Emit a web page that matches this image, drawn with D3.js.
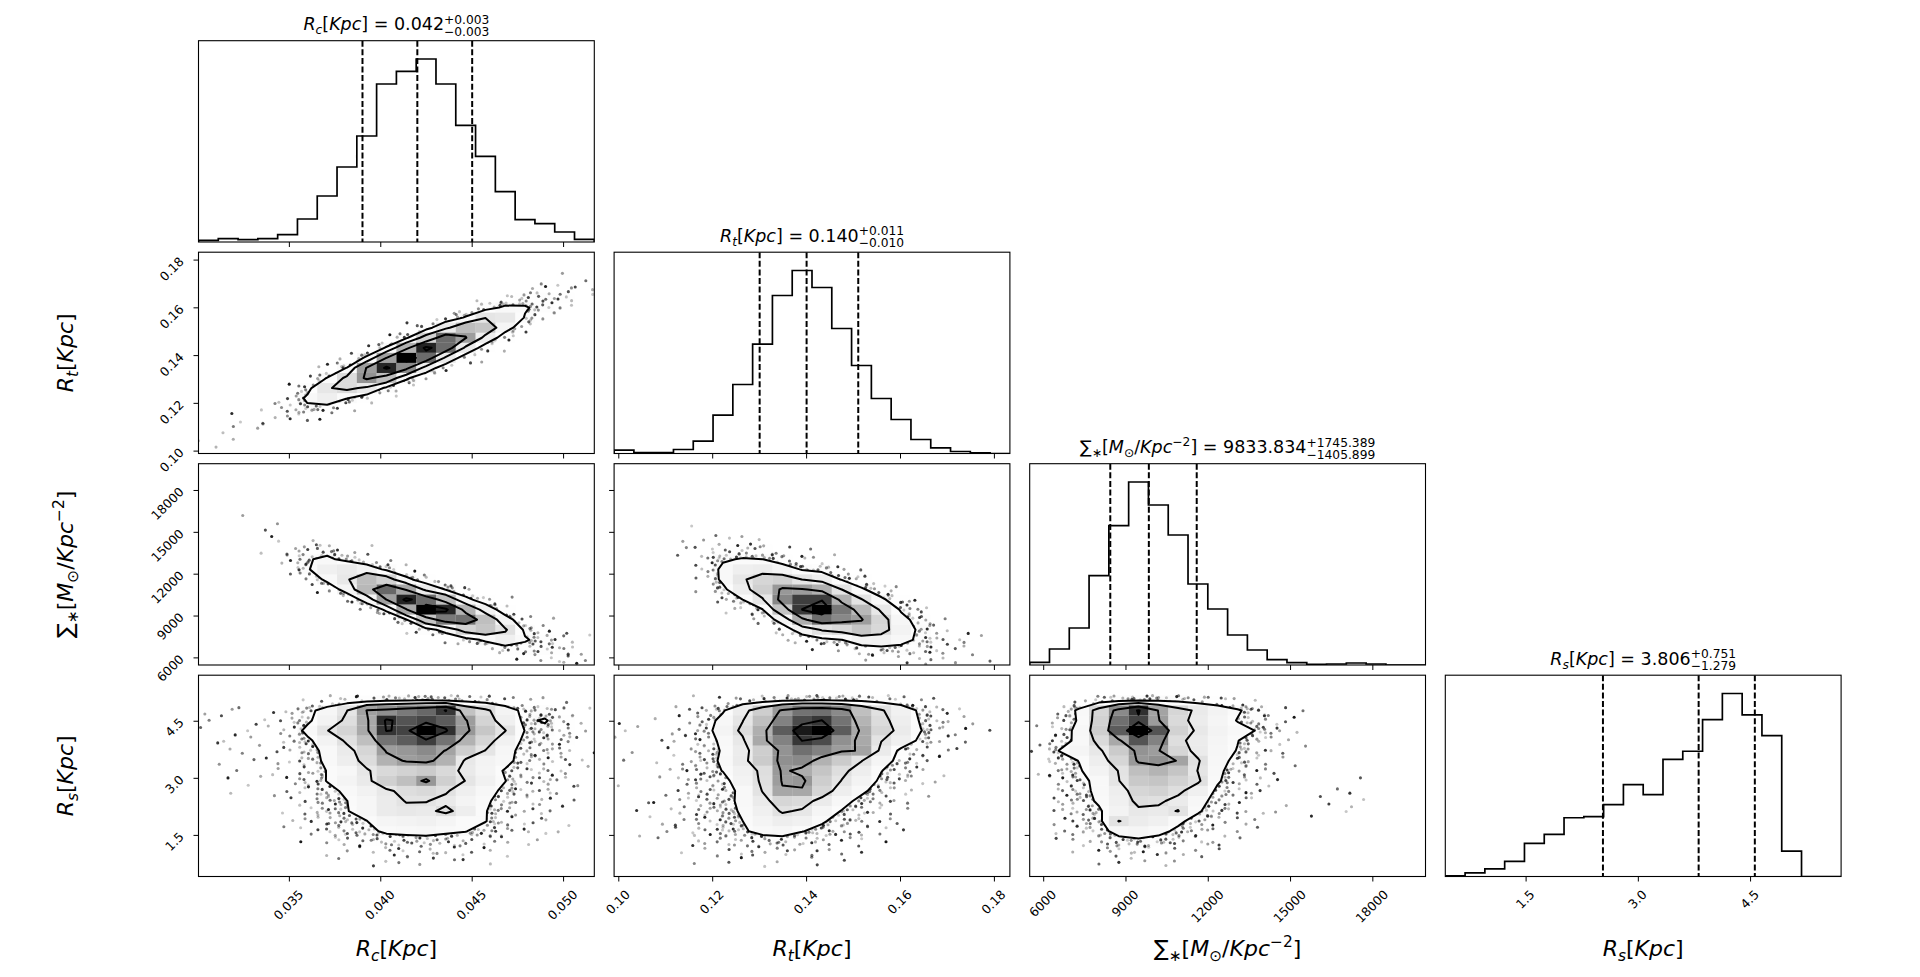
<!DOCTYPE html>
<html><head><meta charset="utf-8">
<script src="https://cdn.jsdelivr.net/npm/d3@7"></script>
<style>
html,body{margin:0;padding:0;background:#fff;}
svg{display:block;font-family:"DejaVu Sans",sans-serif;}
</style></head><body>
<svg id="chart" width="1920" height="977"></svg>
<script>
// ================= DATA =================
const PARAM_KEYS = ["Rc", "Rt", "Sigma", "Rs"];
const RANGES = [[0.03003, 0.05168], [0.0990, 0.1833], [5490, 19920], [0.42, 5.71]];
const TICKS = [[0.035, 0.040, 0.045, 0.050], [0.10, 0.12, 0.14, 0.16, 0.18], [6000, 9000, 12000, 15000, 18000], [1.5, 3.0, 4.5]];
const TICK_FORMATS = [".3f", ".2f", "d", ".1f"];

// 1D histograms (20 bins over each range)
const HIST_RC = [5, 10, 7, 10, 22, 69, 138, 225, 318, 474, 512, 549, 474, 350, 257, 151, 67, 55, 30, 8];
const HIST_RT = [10, 3, 3, 12, 37, 115, 207, 328, 474, 549, 498, 375, 264, 165, 102, 42, 17, 6, 2, 0];
const HIST_SIGMA = [8, 48, 111, 268, 418, 549, 480, 390, 243, 168, 90, 45, 16, 7, 2, 3, 6, 3, 0, 0];
const HIST_RS = [2, 11, 23, 45, 99, 126, 176, 179, 215, 275, 245, 351, 375, 470, 548, 484, 422, 76, 0, 0];

// 16 / 50 / 84 percentiles (dashed lines)
const Q_RC = [0.039, 0.042, 0.045];
const Q_RT = [0.130, 0.140, 0.151];
const Q_SIGMA = [8427.935, 9833.834, 11579.223];
const Q_RS = [2.527, 3.806, 4.557];

// title values: median, minus, plus
const TITLE_VALUES = [["0.042", "0.003", "0.003"], ["0.140", "0.010", "0.011"], ["9833.834", "1405.899", "1745.389"], ["3.806", "1.279", "0.751"]];

// contour levels in sigma
const SIGMA_LEVELS = [0.5, 1, 1.5, 2];

// 2D histograms (20x20, rows listed from the top of the panel = highest y bin)
const GRID_RC_RT = [
[0,0,0,0,0,0,0,0,0,0,0,0,0,0,0,0,0,0,0,0],
[0,0,0,0,0,0,0,0,0,0,0,0,0,0,0,0,0,0,0.1,0.3],
[0,0,0,0,0,0,0,0,0,0,0,0,0,0,0,0,0.1,0.4,1.2,1.3],
[0,0,0,0,0,0,0,0,0,0,0,0,0,0,0,0.3,1.1,2.9,3.9,2],
[0,0,0,0,0,0,0,0,0,0,0,0,0,0.1,0.7,3.3,7,8,4.8,1.1],
[0,0,0,0,0,0,0,0,0,0,0,0,0.2,1.7,8,16,15,8,2.1,0.2],
[0,0,0,0,0,0,0,0,0,0,0,0.4,3.8,15,32,30,12.5,2.9,0.4,0],
[0,0,0,0,0,0,0,0,0,0.1,0.8,7,28,51,48,20,3.8,0.4,0,0],
[0,0,0,0,0,0,0,0,0.1,1.4,11,42,76,62,26,5,0.4,0,0,0],
[0,0,0,0,0,0,0,0.2,1.8,15,55,93,76,28,5.3,1.0,0,0,0,0],
[0,0,0,0,0,0,0.3,1.9,16,61,100,76,28,4.6,1.0,0.3,0,0,0,0],
[0,0,0,0,0,0.2,2.3,14,62,92,67,23,3.8,0.6,0.3,0,0,0,0,0],
[0,0,0,0,0.1,1.8,14,37,65,50,16,2.5,0.2,0,0,0,0,0,0,0],
[0,0,0,0.1,0.8,9,31,37,29,10,1.5,0.1,0,0,0,0,0,0,0,0],
[0,0,0.1,0.6,3.3,16,25,14,5,0.8,0.1,0,0,0,0,0,0,0,0,0],
[0,0.2,0.5,2,5,11,7.6,1.9,0.4,0.3,0,0,0,0,0,0,0,0,0,0],
[0.2,0.9,1.3,2.4,2.7,2.6,0.8,0.2,0,0,0,0,0,0,0,0,0,0,0,0],
[0.5,1.9,1.3,1.1,0.6,0.3,0.2,0,0,0,0,0,0,0,0,0,0,0,0,0],
[1,1.6,0.5,0.2,0.1,0,0,0,0,0,0,0,0,0,0,0,0,0,0,0],
[0.7,0.5,0.1,0,0,0,0,0,0,0,0,0,0,0,0,0,0,0,0,0]];

const GRID_RC_SIGMA = [
[0,0,0,0,0,0,0,0,0,0,0,0,0,0,0,0,0,0,0,0],
[0.2,0,0,0,0,0,0,0,0,0,0,0,0,0,0,0,0,0,0,0],
[0.5,0.4,0,0,0,0,0,0,0,0,0,0,0,0,0,0,0,0,0,0],
[0.6,0.6,0.4,0,0,0,0,0,0,0,0,0,0,0,0,0,0,0,0,0],
[0.4,0.6,0.6,0.4,0,0,0,0,0,0,0,0,0,0,0,0,0,0,0,0],
[0.3,0.5,0.8,0.7,0.4,0.3,0,0,0,0,0,0,0,0,0,0,0,0,0,0],
[0,0.3,0.6,1.0,0.6,0.4,0.3,0,0,0,0,0,0,0,0,0,0,0,0,0],
[0,0,0.4,1.0,1.2,1.1,0.6,0.5,0.3,0,0,0,0,0,0,0,0,0,0,0],
[0,0,0,0.8,3.1,5.1,9,2.5,0.8,0.4,0,0,0,0,0,0,0,0,0,0],
[0,0,0,0.5,3.9,12.5,16,10,4.5,1.5,0.4,0,0,0,0,0,0,0,0,0],
[0,0,0,0.3,1.8,12,24,28,22,11,2.4,0.5,0.3,0,0,0,0,0,0,0],
[0,0,0,0,0.4,3.5,17,30,51,42,17.6,4.7,1.5,0.3,0,0,0,0,0,0],
[0,0,0,0,0.5,0.4,4,19.5,53,77,59,27.5,12.8,2.8,0.6,0,0,0,0,0],
[0,0,0,0.3,0.4,0.3,0.4,3.3,19.5,61,93,76,50,18,5.2,0.8,0,0,0,0],
[0,0,0,0,0,0,0,0.3,2.4,16,59,100,92,54,23.5,5.6,0.6,0,0,0],
[0,0,0,0,0,0,0,0,0.3,1.4,12.6,48,72,75,50,20,3.8,0.9,0.3,0],
[0,0,0,0,0,0,0,0,0,0.2,1,7.7,19,41,48,34.5,11,3.8,1,0.3],
[0,0,0,0,0,0,0,0,0,0,0,0.5,1.7,7.4,16,24.5,15,8.2,3.2,0.7],
[0,0,0,0,0,0,0,0,0,0,0,0,0.2,0.6,1.7,5.8,7.7,7.8,5,1.7],
[0,0,0,0,0,0,0,0,0,0,0,0,0,0,0.3,0.6,1.3,2.6,3.2,1.9]];

const GRID_RT_SIGMA = [
[0,0,0,0,0,0,0,0,0,0,0,0,0,0,0,0,0,0,0,0],
[0,0,0,0,0,0,0,0,0,0,0,0,0,0,0,0,0,0,0,0],
[0.4,0.3,0,0,0,0,0,0,0,0,0,0,0,0,0,0,0,0,0,0],
[0.5,0.4,0.3,0,0,0,0,0,0,0,0,0,0,0,0,0,0,0,0,0],
[0.4,0.5,0.4,0,0,0,0,0,0,0,0,0,0,0,0,0,0,0,0,0],
[0.3,0.4,0.5,0.5,0,0,0,0,0,0,0,0,0,0,0,0,0,0,0,0],
[0,0.3,0.5,0.7,0.4,0.6,0.5,0,0,0,0,0,0,0,0,0,0,0,0,0],
[0.2,0,0.6,1.0,1.0,2,2,1.3,0.4,0,0,0,0,0,0,0,0,0,0,0],
[0.2,0,0.5,1.0,2.2,5.3,6.4,4.7,2,0.8,0.5,0,0,0,0,0,0,0,0,0],
[0,0,0,0.8,3.4,12,14.5,13.7,7.4,3.5,2.3,0.8,0,0,0,0,0,0,0,0],
[0,0,0,0.6,4,16.5,25,26.7,20.8,12.5,9,3.8,1.3,0,0,0,0,0,0,0],
[0,0,0,0.4,3.1,16.3,30.7,40,42.5,32.3,26,12.6,5.3,1.8,0,0,0,0,0,0],
[0,0,0,0.3,1.4,10.3,26,43.6,63.6,62.5,55.6,32.6,15.5,6.3,1.6,0,0,0,0,0],
[0.3,0,0.3,0.4,0.6,3.9,13.6,30.5,69,87,87,55.6,33.5,16,5.2,1.5,0,0,0,0],
[0.3,0.3,0.3,0.3,0.3,0.9,4.2,12.8,48.5,88.3,100,73,53,29.7,11.9,4.1,0.4,0,0,0],
[0,0.2,0,0,0,0.3,0.8,3.2,20.4,56,75.5,68.4,62,40.4,18.4,7.5,1.5,0.5,0,0],
[0.2,0,0,0,0,0,0.2,0.5,5.1,21,34,39,48,39.4,22,10.4,3.5,1.2,0.4,0],
[0,0,0,0,0,0,0,0,0.8,4.8,9.4,13.4,22,23.6,17.9,10.6,5,2.1,0.8,0.2],
[0,0,0,0,0,0,0,0,0,0.6,1.5,2.8,6.2,8.5,8.8,6.7,4.2,2.4,1,0.3],
[0,0,0,0,0,0,0,0,0,0,0.2,0.4,1.1,1.8,2.6,2.5,2.2,1.8,0.9,0.3]];

const GRID_RC_RS = [
[0,0,0,0,0,0,0,0,0,0,0,0,0,0,0,0,0,0,0,0],
[0,0,0,0,0,0,0,0,0,0,0,0,0,0,0,0,0,0,0,0],
[0.1,0.3,0.2,0.3,0.6,1.8,3.5,5.7,8,12,13,14,12,8.9,6.5,3.8,1.7,1.4,0.8,0.2],
[0.7,1.4,1,1.4,3.1,9.7,19,32,61,66,72,77,89,49,36,21,9.4,7.7,4.2,1.2],
[0.8,1.6,1.1,1.6,3.5,11,22,36,58,91,82,85,80,62,41,24,10.8,15,4.9,1.3],
[0.9,1.8,1.3,1.8,4,17,32,41,58,89,86,100,90,64,47,33,13,10,5.5,1.5],
[0.8,1.5,1.1,1.5,3.4,10.8,21.5,35,50,74,80,87,74,55,40,23.6,10.5,8.6,4.7,1.3],
[0.6,1.2,0.9,1.2,2.7,8.6,17,28,40,62,64,68,60,44,32,19,8.3,6.8,3.8,1],
[0.6,1.2,0.8,1.2,2.6,8,16,26,37,55,62,64,55,30,22,17.6,7.8,6.4,3.5,1],
[0.4,0.8,0.6,0.8,1.8,5.6,14,18,31,39,42,45,39,28.5,21,12.3,5.5,4.5,2.5,0.7],
[0.5,0.9,0.7,0.9,2,6.3,14,20.6,29,43,50,64,43,32,23.5,13.8,6.1,5,2.8,0.8],
[0.4,0.7,0.5,0.7,1.6,4.9,9.8,16,22.7,30,36.6,39,34,25,18,10.8,4.8,3.9,2.2,0.6],
[0.3,0.6,0.4,0.6,1.3,4.1,8.2,13.4,19,28,33,33,29,21,15.3,9,4,3.3,1.8,0.5],
[0.3,0.6,0.4,0.6,1.3,4,8,13,18.6,27.7,30,29,36,26,14,8,3.5,2.8,1.6,0.4],
[0.2,0.4,0.3,0.4,0.9,2.9,5.8,9.4,13.3,19.9,21.5,23,19.9,14.7,14,6.3,2.8,2.3,1.3,0.3],
[0.2,0.3,0.2,0.3,0.7,2.3,4.5,7.4,10.5,15.6,16.9,18.1,15.6,14,8.5,5,2.2,1.8,1,0.3],
[0.1,0.1,0.1,0.1,0.3,1,2,3.4,4.7,7.1,7.7,8.2,7.1,5.2,3.8,2.3,1,0.8,0.5,0.1],
[0.1,0.1,0.1,0.1,0.2,0.5,1.1,1.7,2.4,3.6,3.9,4.2,3.6,2.7,2,1.2,0.5,0.4,0.2,0.1],
[0.1,0.1,0.1,0.1,0.1,0.3,0.5,0.8,1.2,1.7,1.9,2,1.7,1.3,0.9,0.6,0.2,0.2,0.1,0],
[0,0,0,0,0,0,0,0.2,0.3,0.4,0.4,0.4,0.3,0.3,0.2,0,0,0,0,0]];

const GRID_RT_RS = [
[0,0,0,0,0,0,0,0,0,0,0,0,0,0,0,0,0,0,0,0],
[0,0,0,0,0,0,0,0,0,0,0,0,0,0,0,0,0,0,0,0],
[0.1,0.1,0.1,0.5,1,3,5,8,11,13,14,13,11,8,5.5,3,1.2,0.5,0.1,0],
[0.6,0.5,0.6,2,5,12,27,44,63,74,75,68,50,34,23,10.5,4,1.5,0.6,0.2],
[0.8,0.6,0.8,2.5,6,18,32,50,70,84,88.5,74,54,37,26,12,4.5,1.8,0.8,0.3],
[1,0.8,1,3,7,21,36,56,80,95,100,80,58,40,28,14,5,2,1,0.3],
[0.8,0.6,0.8,2.5,6,17,30,58,70,88.5,84,66,58,33,24,10,3.5,1.5,0.6,0.2],
[0.7,0.5,0.8,2.5,6,15,27,44,65,75,70,62,60,28,10,5,2.5,1,0.4,0.1],
[0.7,0.5,0.8,2.8,7,16,28,45,66,68,55,45,33,20,9,4,1.5,0.6,0.3,0.1],
[0.6,0.5,0.8,3,7,14,23,36,63,57,48,36,26,14,6,2.5,1,0.4,0.2,0],
[0.7,0.6,0.9,3.2,7.5,9,22,35,62,64,44,32,22,11,4.5,2,0.8,0.3,0.2,0],
[0.6,0.6,0.9,3,7,8,17,33,59,59,40,26,16,8,3,1.2,0.5,0.2,0,0],
[0.6,0.7,1,3,6.5,10,16,28,40,38,28,18,10,5,2,0.8,0.3,0.1,0,0],
[0.6,0.8,1,3,6,9.5,15,24,34,31,20,13,7,3.5,1.5,0.6,0.2,0,0,0],
[0.5,0.8,1,2.8,5.5,9,13.5,21,26,23,15,9,5,2.5,1,0.5,0.2,0,0,0],
[0.5,0.7,0.9,2.4,4.5,7.5,12,17,19,14,10,6,3.5,2,0.8,0.4,0,0,0,0],
[0.4,0.5,0.7,1.6,3,4.5,6,7.5,8,6.5,4.5,3,2,1,0.5,0.2,0,0,0,0],
[0.3,0.4,0.5,0.9,1.5,2.2,3,3.5,3.5,3,2.2,1.5,1,0.6,0.3,0,0,0,0,0],
[0.3,0.3,0.3,0.5,0.8,1.1,1.4,1.6,1.6,1.4,1,0.7,0.5,0.3,0.1,0,0,0,0,0],
[0.1,0.2,0.1,0.2,0.3,0.4,0.5,0.5,0.5,0.4,0.3,0.2,0.1,0,0,0,0,0,0,0]];

const GRID_SIGMA_RS = [
[0,0,0,0,0,0,0,0,0,0,0,0,0,0,0,0,0,0,0,0],
[0,0,0,0.1,0.1,0.2,0.1,0.1,0.1,0,0,0,0,0,0,0,0,0,0,0],
[0.1,0.5,2,6,10,13,12,10,7,5,3,1.5,0.6,0.2,0.1,0,0,0,0,0],
[0.5,4,16,40,68,90,60,40,29,22,15,8,3,1,0.5,0.3,0.3,0,0,0],
[0.6,5,15,42,75,86,62,38,27,20,13,8,3,1,0.4,0.3,0.3,0.2,0,0],
[0.7,6,18,44,80,100,82,42,30,22,17,13,4,1.2,0.5,0.4,0.3,0.2,0,0],
[0.8,8,17,38,58,82,70,36,27,20,14,6,2.5,1,0.5,0.3,0.3,0,0,0],
[1,14,20,30,45,65,62,40,28,19,13,5,2,0.8,0.4,0.3,0.2,0,0,0],
[0.8,7,14,26,40,63,66,60,34,18,10,4,1.5,0.7,0.4,0.3,0.3,0.2,0,0],
[0.7,6,12,22,33,50,54,48,32,16,8,3,1.2,0.6,0.5,0.4,0.5,0.3,0.2,0],
[0.6,5,10,17,32,46,48,42,35,15,6,2.5,1,0.6,0.6,0.6,0.7,0.5,0.3,0],
[0.5,4,10,16,26,40,42,36,24,11,5,2,1,0.6,0.6,0.7,0.8,0.6,0.3,0],
[0.5,3.5,9,15,24,36,35,28,18,9,4,1.8,0.9,0.6,0.8,0.8,0.8,0.6,0.3,0],
[0.4,3,8,12,22,30,29,33,15,7,3.5,1.5,0.8,0.6,0.7,0.7,0.8,0.6,0.3,0],
[0.3,2.5,6,10,33,27,24,16,9,4.5,2.5,1,0.6,0.4,0.5,0.5,0.6,0.4,0.2,0],
[0.3,2,5,9,18,20,17,11,6,3,1.8,0.8,0.5,0.3,0.3,0.3,0.4,0.3,0,0],
[0.2,1.2,3,5,9,11,9,6,3.5,2,1,0.5,0.3,0.2,0.2,0,0,0,0,0],
[0.1,0.6,1.5,2.5,4,5,4,3,1.8,1,0.5,0.3,0,0,0,0,0,0,0,0],
[0,0.3,0.6,1,1.8,2,1.8,1.3,0.8,0.4,0.2,0,0,0,0,0,0,0,0,0],
[0,0,0.2,0.3,0.5,0.5,0.5,0.4,0.3,0.1,0,0,0,0,0,0,0,0,0,0]];

// axis label text (rich segments)
const LABELS = [
  [{t:"R",i:1},{t:"c",i:1,sub:1},{t:"["},{t:"Kpc",i:1},{t:"]"}],
  [{t:"R",i:1},{t:"t",i:1,sub:1},{t:"["},{t:"Kpc",i:1},{t:"]"}],
  [{t:"\u2211"},{t:"\u2217",sub:1},{t:"["},{t:"M",i:1},{t:"\u2299",sub:1},{t:"/"},{t:"Kpc",i:1},{t:"\u22122",sup:1},{t:"]"}],
  [{t:"R",i:1},{t:"s",i:1,sub:1},{t:"["},{t:"Kpc",i:1},{t:"]"}]
];

// ================= LAYOUT =================
const LAYOUT = {left: 198.5, colStep: 415.6, panelW: 395.8, top: 40.7, rowStep: 211.5, panelH: 201.3};
const DOTS_PER_UNIT = 0.8;
const HISTS = [HIST_RC, HIST_RT, HIST_SIGMA, HIST_RS];
const QUANTS = [Q_RC, Q_RT, Q_SIGMA, Q_RS];
const GRIDS = {"0-1": GRID_RC_RT, "0-2": GRID_RC_SIGMA, "1-2": GRID_RT_SIGMA, "0-3": GRID_RC_RS, "1-3": GRID_RT_RS, "2-3": GRID_SIGMA_RS};
const NP = PARAM_KEYS.length;

const svg = d3.select("#chart");
const defs = svg.append("defs");

function box(r, c) {
  return {x: LAYOUT.left + c * LAYOUT.colStep, y: LAYOUT.top + r * LAYOUT.rowStep, w: LAYOUT.panelW, h: LAYOUT.panelH};
}
const xScales = RANGES.map((rg, k) => { const b = box(k, k); return d3.scaleLinear().domain(rg).range([b.x, b.x + b.w]); });
const yScales = RANGES.map((rg, k) => { const b = box(k, 0); return d3.scaleLinear().domain(rg).range([b.y + b.h, b.y]); });
const fmts = TICK_FORMATS.map(f => d3.format(f));

function halton(i, b) { let f = 1, r = 0; while (i > 0) { f /= b; r += f * (i % b); i = Math.floor(i / b); } return r; }

function rich(textSel, segs, size) {
  let cur = 0;
  segs.forEach(s => {
    const small = s.sub || s.sup;
    const fs = small ? size * 0.7 : size;
    const target = s.sub ? size * 0.22 : (s.sup ? -size * 0.42 : 0);
    const ts = textSel.append("tspan").attr("font-size", fs).attr("dy", (target - cur).toFixed(2)).text(s.t);
    if (s.i) ts.attr("font-style", "italic");
    cur = target;
  });
  return cur;
}

function clipFor(r, c) {
  const b = box(r, c), id = `clip${r}${c}`;
  defs.append("clipPath").attr("id", id).append("rect").attr("x", b.x).attr("y", b.y).attr("width", b.w).attr("height", b.h);
  return `url(#${id})`;
}

function spine(b) {
  svg.append("rect").attr("x", b.x).attr("y", b.y).attr("width", b.w).attr("height", b.h)
    .attr("fill", "none").attr("stroke", "#000").attr("stroke-width", 1.1);
}

function xTicks(b, k, withLabels) {
  const xs = xScales[k];
  TICKS[k].forEach(v => {
    const x = xs(v);
    svg.append("line").attr("x1", x).attr("x2", x).attr("y1", b.y + b.h).attr("y2", b.y + b.h + 5)
      .attr("stroke", "#000").attr("stroke-width", 1);
    if (withLabels) {
      const txt = svg.append("text").attr("font-size", 12.5).attr("text-anchor", "middle").attr("dy", "0.36em").attr("fill", "#000").text(fmts[k](v));
      const w = txt.node().getComputedTextLength();
      const cx = x - 1, cy = b.y + b.h + 12.5 + 0.7071 * (w + 9) / 2;
      txt.attr("transform", `translate(${cx},${cy}) rotate(-45)`);
    }
  });
}

function yTicks(b, k, withLabels) {
  const ys = yScales[k];
  TICKS[k].forEach(v => {
    const y = ys(v);
    svg.append("line").attr("x1", b.x - 5).attr("x2", b.x).attr("y1", y).attr("y2", y)
      .attr("stroke", "#000").attr("stroke-width", 1);
    if (withLabels) {
      svg.append("text").attr("font-size", 12.5).attr("text-anchor", "end").attr("dy", "0.36em").attr("fill", "#000")
        .attr("transform", `translate(${b.x - 17},${y - 1}) rotate(-45)`).text(fmts[k](v));
    }
  });
}

function drawHist(k) {
  const b = box(k, k);
  const xs = xScales[k];
  const counts = HISTS[k];
  const n = counts.length;
  const ys = d3.scaleLinear().domain([0, 1.1 * d3.max(counts)]).range([b.y + b.h, b.y]);
  const edges = d3.range(n + 1).map(i => RANGES[k][0] + (RANGES[k][1] - RANGES[k][0]) * i / n);
  const pts = [[edges[0], 0]];
  counts.forEach((c, i) => { pts.push([edges[i], c]); pts.push([edges[i + 1], c]); });
  pts.push([edges[n], 0]);
  const g = svg.append("g").attr("clip-path", clipFor(k, k));
  g.append("path").attr("d", d3.line().x(d => xs(d[0])).y(d => ys(d[1]))(pts))
    .attr("fill", "none").attr("stroke", "#000").attr("stroke-width", 1.7);
  QUANTS[k].forEach(q => {
    g.append("line").attr("x1", xs(q)).attr("x2", xs(q)).attr("y1", b.y).attr("y2", b.y + b.h)
      .attr("stroke", "#000").attr("stroke-width", 2).attr("stroke-dasharray", "6,2.6");
  });
  spine(b);
  // title
  const size = 17.5;
  const t = svg.append("text").attr("x", b.x + b.w / 2).attr("y", b.y - 10.3).attr("text-anchor", "middle")
    .attr("font-size", size).attr("fill", "#000");
  const cur = rich(t, LABELS[k], size);
  t.append("tspan").attr("font-size", size).attr("dy", (-cur).toFixed(2)).text(" = " + TITLE_VALUES[k][0]);
  const sup = t.append("tspan").attr("font-size", size * 0.7).attr("dy", -6.8).text("+" + TITLE_VALUES[k][2]);
  const supLen = sup.node().getComputedTextLength();
  t.append("tspan").attr("font-size", size * 0.7).attr("dy", 12).attr("dx", -supLen).text("\u2212" + TITLE_VALUES[k][1]);
}

function draw2D(r, c, grid, pIndex) {
  const b = box(r, c);
  const xs = xScales[c], ys = yScales[r];
  const ny = grid.length, nx = grid[0].length;
  const gx = d3.scaleLinear().domain([0, nx]).range(RANGES[c]);
  const gy = d3.scaleLinear().domain([0, ny]).range([RANGES[r][1], RANGES[r][0]]);
  const flat = grid.flat();
  const vmax = d3.max(flat);
  const thresholds = SIGMA_LEVELS.map(s => vmax * Math.exp(-0.5 * s * s));
  const lowT = d3.min(thresholds);
  const g = svg.append("g").attr("clip-path", clipFor(r, c));

  // sample points (dot density of the low-density cells)
  const dots = [];
  flat.forEach((v, idx) => {
    if (v <= 0 || v > 2 * lowT) return;
    const i = idx % nx, j = Math.floor(idx / nx);
    const n = Math.round(v * DOTS_PER_UNIT);
    const base = ((i * 131 + j * 71 + pIndex * 977) % 4000) + 1;
    for (let q = 0; q < n; q++) {
      const h = base + q * 7 + 1;
      dots.push({x: gx(i + halton(h, 2)), y: gy(j + halton(h, 3)), o: 0.22 + 0.7 * Math.pow(halton(h, 5), 1.5)});
    }
  });
  g.selectAll(null).data(dots).join("circle")
    .attr("cx", d => xs(d.x)).attr("cy", d => ys(d.y)).attr("r", 1.55)
    .attr("fill", "#000").attr("fill-opacity", d => d.o);

  const proj = d3.geoTransform({point(x, y) { this.stream.point(xs(gx(x)), ys(gy(y))); }});
  const path = d3.geoPath(proj);
  const conts = d3.contours().size([nx, ny]).thresholds(thresholds)(flat);
  const outer = conts.find(cc => cc.value === lowT);
  g.append("path").attr("d", path(outer)).attr("fill", "#fff");

  // density cells
  const cells = flat.map((v, idx) => ({v, i: idx % nx, j: Math.floor(idx / nx)})).filter(d => d.v > 0);
  g.selectAll(null).data(cells).join("rect")
    .attr("x", d => xs(gx(d.i))).attr("width", d => xs(gx(d.i + 1)) - xs(gx(d.i)))
    .attr("y", d => ys(gy(d.j))).attr("height", d => ys(gy(d.j + 1)) - ys(gy(d.j)))
    .attr("fill", d => { const u = Math.round(255 * (1 - d.v / vmax)); return `rgb(${u},${u},${u})`; })
    .attr("fill-opacity", d => d.v / vmax);

  g.selectAll(null).data(conts).join("path").attr("d", path)
    .attr("fill", "none").attr("stroke", "#000").attr("stroke-width", 2).attr("stroke-linejoin", "round");
  spine(b);
}

// ================= DRAW =================
let pIndex = 0;
for (let r = 0; r < NP; r++) {
  for (let c = 0; c <= r; c++) {
    const b = box(r, c);
    if (r === c) {
      drawHist(r);
    } else {
      draw2D(r, c, GRIDS[`${c}-${r}`], pIndex++);
      yTicks(b, r, c === 0);
    }
    xTicks(b, c, r === NP - 1);
  }
}

// axis labels
for (let k = 0; k < NP; k++) {
  const bb = box(NP - 1, k);
  const t = svg.append("text").attr("x", bb.x + bb.w / 2).attr("y", 956).attr("text-anchor", "middle")
    .attr("font-size", 22).attr("fill", "#000");
  rich(t, LABELS[k], 22);
  if (k > 0) {
    const br = box(k, 0);
    const ty = svg.append("text").attr("text-anchor", "middle").attr("font-size", 22).attr("fill", "#000")
      .attr("transform", `translate(73,${br.y + br.h / 2}) rotate(-90)`);
    rich(ty, LABELS[k], 22);
  }
}
</script>
</body></html>
